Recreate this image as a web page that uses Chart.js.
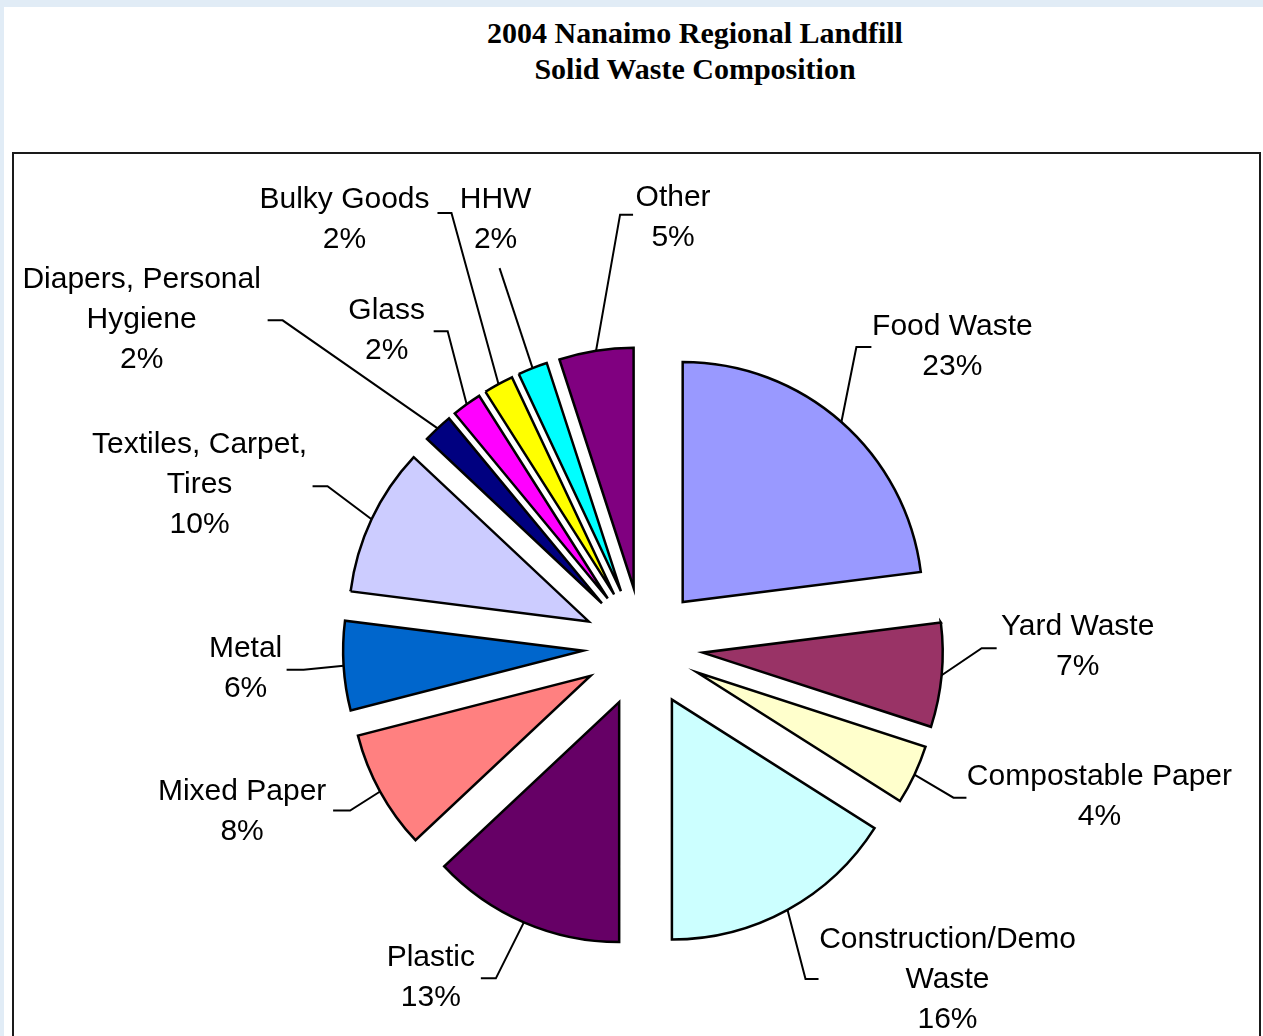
<!DOCTYPE html>
<html>
<head>
<meta charset="utf-8">
<script src="https://cdn.jsdelivr.net/npm/chart.js@4.4.1/dist/chart.umd.min.js"></script>
<style>
  html, body { margin: 0; padding: 0; overflow: hidden; }
  body { width: 1263px; height: 1036px; background: #e1ecf6; position: relative; }
  #page { position: absolute; left: 4px; top: 7px; right: 0; bottom: 0; background: #fff; }
  #title {
    position: absolute; left: 391px; top: 8px; width: 600px; text-align: center;
    font-family: "Liberation Serif", "Times New Roman", serif; font-weight: bold;
    font-size: 30px; line-height: 36px; color: #000;
  }
  #box {
    position: absolute; left: 8px; top: 145px; width: 1245px; height: 946px;
    border: 2px solid #1a1a1a;
  }
</style>
</head>
<body>
<div id="page">
  <div id="title">2004 Nanaimo Regional Landfill<br>Solid Waste Composition</div>
  <div id="box"><canvas id="pie"></canvas></div>
</div>
<script>
// categories, clockwise from 12 o'clock
const categories = [
  'Food Waste',
  'Yard Waste',
  'Compostable Paper',
  ['Construction/Demo', 'Waste'],
  'Plastic',
  'Mixed Paper',
  'Metal',
  ['Textiles, Carpet,', 'Tires'],
  ['Diapers, Personal', 'Hygiene'],
  'Glass',
  'Bulky Goods',
  'HHW',
  'Other'
];
const percentages = [23, 7, 4, 16, 13, 8, 6, 10, 2, 2, 2, 2, 5];
const sliceColors = [
  '#9999ff', '#993366', '#ffffcc', '#ccffff', '#660066', '#ff8080', '#0066cc',
  '#ccccff', '#000080', '#ff00ff', '#ffff00', '#00ffff', '#800080'
];

// label placement relative to each slice's outer midpoint (text centre, leader elbow, leader end)
const labelLayout = [
  { text: [111, -75],  elbow: [15, -75],   end: [30, -75] },
  { text: [136, -28],  elbow: [40, -27],   end: [55, -27] },
  { text: [185, 22],   elbow: [39, 23],    end: [52, 23] },
  { text: [160, 70],   elbow: [18, 69],    end: [31, 69] },
  { text: [-93, 55],   elbow: [-28, 56],   end: [-43, 56] },
  { text: [-138, 20],  elbow: [-30, 19],   end: [-47, 19] },
  { text: [-98, 3],    elbow: [-40, 4],    end: [-57, 4] },
  { text: [-172, -35], elbow: [-44, -33],  end: [-59, -33] },
  { text: [-296, -109], elbow: [-155, -108], end: [-170, -108] },
  { text: [-80, -74],  elbow: [-19, -73],  end: [-33, -73] },
  { text: [-154, -164], elbow: [-47, -171], end: [-61, -171] },
  { text: [-37, -148], elbow: [-33, -100], end: [-33, -100] },
  { text: [77, -133],  elbow: [24, -136],  end: [37, -136] }
];

const explodeGap = 60;
const lineGap = 40;

// push every slice out along its bisector
const explode = {
  id: 'explode',
  afterUpdate(chart) {
    chart.getDatasetMeta(0).data.forEach(arc => {
      const mid = (arc.startAngle + arc.endAngle) / 2;
      arc.x += Math.cos(mid) * explodeGap;
      arc.y += Math.sin(mid) * explodeGap;
    });
  }
};

// excel-style labels with leader lines
const sliceLabels = {
  id: 'sliceLabels',
  afterDraw(chart) {
    const ctx = chart.ctx;
    const data = chart.data;
    ctx.save();
    ctx.strokeStyle = '#000';
    ctx.lineWidth = 2;
    ctx.fillStyle = '#000';
    ctx.font = '30px "Liberation Sans", Arial, sans-serif';
    ctx.textAlign = 'center';
    ctx.textBaseline = 'middle';
    chart.getDatasetMeta(0).data.forEach((arc, i) => {
      const mid = (arc.startAngle + arc.endAngle) / 2;
      const ox = arc.x + Math.cos(mid) * arc.outerRadius;
      const oy = arc.y + Math.sin(mid) * arc.outerRadius;
      const lay = labelLayout[i];
      ctx.beginPath();
      ctx.moveTo(ox, oy);
      ctx.lineTo(ox + lay.elbow[0], oy + lay.elbow[1]);
      ctx.lineTo(ox + lay.end[0], oy + lay.end[1]);
      ctx.stroke();
      const name = data.labels[i];
      const lines = (Array.isArray(name) ? name.slice() : [name]);
      lines.push(data.datasets[0].data[i] + '%');
      const tx = ox + lay.text[0];
      const ty = oy + lay.text[1] - (lines.length - 1) * lineGap / 2;
      lines.forEach((l, k) => ctx.fillText(l, tx, ty + k * lineGap));
    });
    ctx.restore();
  }
};

new Chart(document.getElementById('pie'), {
  type: 'pie',
  data: {
    labels: categories,
    datasets: [{
      data: percentages,
      backgroundColor: sliceColors,
      borderColor: '#000',
      borderWidth: 2.5,
      borderJoinStyle: 'miter'
    }]
  },
  options: {
    responsive: true,
    maintainAspectRatio: false,
    animation: false,
    events: [],
    radius: 240,
    layout: { padding: { left: 13, right: 0, top: 40, bottom: 0 } },
    plugins: {
      legend: { display: false },
      tooltip: { enabled: false },
      title: { display: false }
    }
  },
  plugins: [explode, sliceLabels]
});
</script>
</body>
</html>
